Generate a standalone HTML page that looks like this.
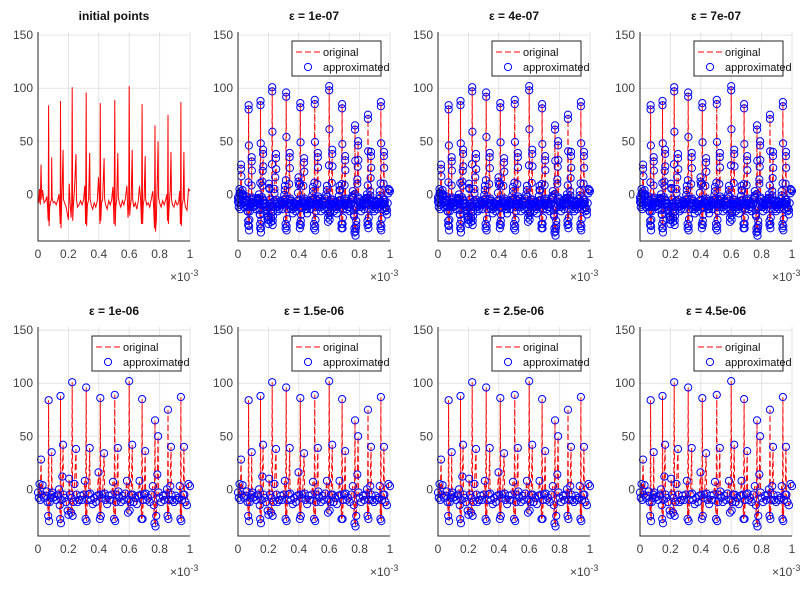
<!DOCTYPE html>
<html><head><meta charset="utf-8">
<style>
html,body{margin:0;padding:0;background:#fff;}
svg{display:block;font-family:"Liberation Sans",sans-serif;}
</style></head>
<body>
<svg id="fig" width="810" height="589" viewBox="0 0 810 589" xmlns="http://www.w3.org/2000/svg"></svg>
<script>
const titles = ["initial points","= 1e-07","= 4e-07","= 7e-07","= 1e-06","= 1.5e-06","= 2.5e-06","= 4.5e-06"];
const xTicks = [0,0.2,0.4,0.6,0.8,1];
const xTickLabels = ["0","0.2","0.4","0.6","0.8","1"];
const yTicks = [0,50,100,150];
const yTickLabels = ["0","50","100","150"];
const sigT = [0,0.005,0.01,0.015,0.02,0.025,0.03,0.04,0.05,0.058,0.063,0.067,0.07,0.073,0.077,0.082,0.088,0.09,0.093,0.1,0.11,0.12,0.13,0.138,0.143,0.146,0.148,0.151,0.155,0.16,0.165,0.168,0.175,0.185,0.195,0.2,0.205,0.21,0.218,0.222,0.225,0.228,0.232,0.24,0.25,0.253,0.26,0.27,0.28,0.29,0.3,0.308,0.313,0.317,0.32,0.325,0.333,0.34,0.343,0.35,0.36,0.37,0.38,0.39,0.398,0.404,0.407,0.41,0.413,0.418,0.425,0.435,0.438,0.445,0.455,0.465,0.475,0.485,0.493,0.5,0.505,0.508,0.512,0.518,0.525,0.528,0.535,0.545,0.555,0.565,0.575,0.585,0.592,0.597,0.6,0.603,0.607,0.613,0.62,0.623,0.63,0.64,0.65,0.66,0.668,0.675,0.681,0.685,0.688,0.692,0.698,0.705,0.708,0.715,0.725,0.735,0.745,0.755,0.762,0.766,0.77,0.773,0.778,0.785,0.79,0.793,0.8,0.81,0.82,0.83,0.84,0.848,0.852,0.855,0.858,0.863,0.87,0.875,0.878,0.885,0.895,0.905,0.915,0.925,0.932,0.937,0.94,0.943,0.948,0.955,0.96,0.963,0.97,0.98,0.99,1.0];
const sigV = [-3,-8,5,-10,28,-5,4,-8,-6,-2,-12,-25,84,-30,-12,-8,-5,35,-3,-8,-7,-10,-5,0,-15,-28,88,-32,-10,12,42,-5,-8,-12,-20,-24,10,-5,-22,-8,101,-25,-12,5,38,-5,-12,-10,-6,-10,-5,8,-28,96,-30,-10,-5,39,-4,-10,-14,-8,-12,-6,16,-5,-28,86,-25,-8,-5,34,-4,-10,-14,-6,-10,-5,7,-28,89,-30,-12,-5,39,-2,-8,-12,-6,-10,-4,8,-22,-10,102,-20,-12,-5,42,-5,-12,-8,-14,-6,8,-5,-28,85,-28,-10,-5,36,-4,-10,-8,-12,-5,3,-15,-32,65,-35,-25,14,50,-3,-8,-12,-6,-10,-5,0,-25,75,-28,-10,3,40,-5,-10,-12,-6,-10,-8,3,-28,87,-30,-10,-5,40,-5,-12,-15,5,3];
const denseCircles = [false,true,true,true,false,false,false,false];

const NS="http://www.w3.org/2000/svg";
const svg=document.getElementById('fig');
function mk(tag,attrs,parent){const e=document.createElementNS(NS,tag);for(const k in attrs)e.setAttribute(k,attrs[k]);(parent||svg).appendChild(e);return e;}
const colX=[38,238,438,640], W=152;
const rowTop=[32,327], H=209;
const yMin=-44,yMax=153;

for(let p=0;p<8;p++){
  const r=Math.floor(p/4), c=p%4;
  const x0=colX[c], y0=rowTop[r];
  const sx=v=>x0+v*W;
  const sy=v=>y0+H-(v-yMin)/(yMax-yMin)*H;
  const g=mk('g',{});
  
  
  // grid
  xTicks.forEach(t=>{const l=mk('line',{x1:sx(t),x2:sx(t),y1:y0,y2:y0+H,stroke:'#e3e3e3','stroke-width':1},g);});
  yTicks.forEach(t=>{const l=mk('line',{x1:x0,x2:x0+W,y1:sy(t),y2:sy(t),stroke:'#e3e3e3','stroke-width':1},g);});
  // data line
  const pts=sigT.map((t,i)=>sx(t).toFixed(1)+','+sy(sigV[i]).toFixed(1)).join(' ');
  const line=mk('polyline',{points:pts,fill:'none',stroke:'#ff0000','stroke-width':1,'stroke-dasharray':p===0?'none':'6,3'},g);
  
  
  if(p>0){
    const cg=mk('g',{fill:'none',stroke:'#0000ff','stroke-width':1},g);
    
    
    sigT.forEach((t,i)=>{
      const ci=mk('circle',{cx:sx(t),cy:sy(sigV[i]),r:3.6},cg);
      
      
      if(denseCircles[p]&&i<sigT.length-1){
        const ci2=mk('circle',{cx:sx((t+sigT[i+1])/2),cy:sy((sigV[i]*2+sigV[i+1])/3),r:3.6},cg);
        
        
        const ci3=mk('circle',{cx:sx(t),cy:sy(sigV[i]-4),r:3.6},cg);
        
        
      }
    });
  }
  // axes lines
  const ax=mk('path',{d:`M${x0},${y0} V${y0+H} H${x0+W}`,fill:'none',stroke:'#262626','stroke-width':1},g);
  
  xTicks.forEach((t,i)=>{
    const tx=mk('text',{x:sx(t),y:y0+H+17,'text-anchor':'middle','font-size':12,fill:'#404040'},g);
    tx.textContent=xTickLabels[i];
    
  });
  yTicks.forEach((t,i)=>{
    const tx=mk('text',{x:x0-5,y:sy(t)+4,'text-anchor':'end','font-size':12,fill:'#404040'},g);
    tx.textContent=yTickLabels[i];
    
  });
  const ex=mk('text',{x:x0+W-20,y:y0+H+40,'font-size':12,fill:'#404040'},g);
  ex.innerHTML='×10<tspan dy="-5" font-size="9">-3</tspan>';
  
  const tt=mk('text',{x:x0+W/2,y:y0-12,'text-anchor':'middle','font-size':12,'font-weight':'bold',fill:'#111'},g);
  tt.textContent=p===0?titles[0]:'\u03B5 '+titles[p];
  
  if(p>0){
    const lg=mk('g',{},g);
    
    const lx=x0+W-98, ly=y0+9;
    mk('rect',{x:lx,y:ly,width:89,height:35,fill:'#fff',stroke:'#262626','stroke-width':1},lg);
    const l1=mk('line',{x1:lx+4,x2:lx+29,y1:ly+11,y2:ly+11,stroke:'#ff0000','stroke-dasharray':'6,3'},lg);
    
    const t1=mk('text',{x:lx+31,y:ly+15,'font-size':11,fill:'#111'},lg);t1.textContent='original';
    
    const c1=mk('circle',{cx:lx+16,cy:ly+26,r:3.6,fill:'none',stroke:'#0000ff'},lg);
    
    const t2=mk('text',{x:lx+31,y:ly+30,'font-size':11,fill:'#111'},lg);t2.textContent='approximated';
    
  }
}
</script>
</body></html>
